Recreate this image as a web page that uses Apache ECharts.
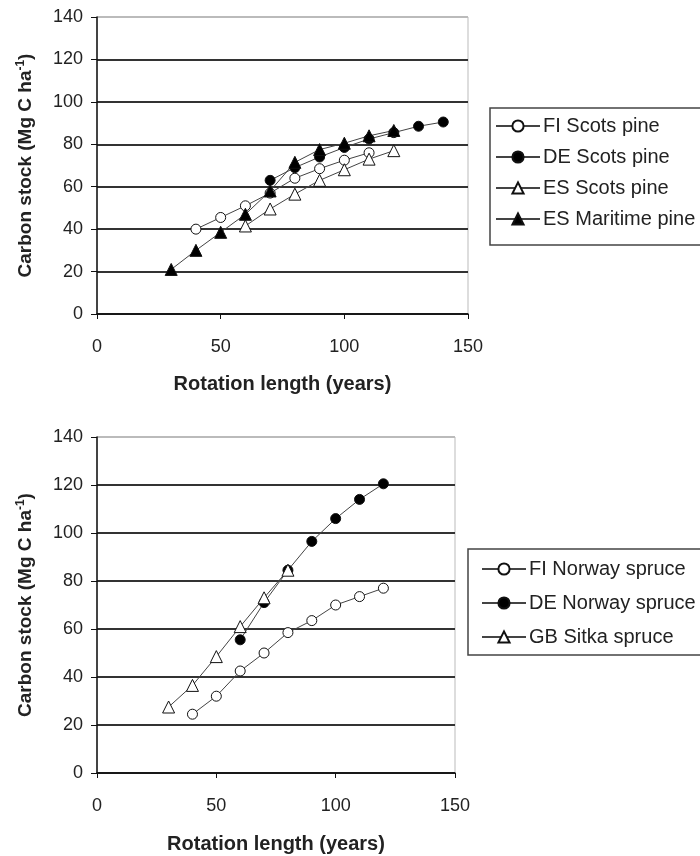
<!DOCTYPE html>
<html>
<head>
<meta charset="utf-8">
<script src="https://cdn.jsdelivr.net/npm/echarts@6/dist/echarts.min.js"></script>
<style>
  html, body { margin: 0; padding: 0; background: #fff; }
  #chart { width: 700px; height: 856px; }
</style>
</head>
<body>
<div id="chart"></div>
<script>
// pine (top panel)
var fiScotsYears = [40, 50, 60, 70, 80, 90, 100, 110];
var fiScotsStock = [40, 45.5, 51, 57, 64, 68.5, 72.5, 76];
var deScotsYears = [70, 80, 90, 100, 110, 120, 130, 140];
var deScotsStock = [63, 69, 74, 78.5, 82.5, 85.5, 88.5, 90.5];
var esScotsYears = [60, 70, 80, 90, 100, 110, 120];
var esScotsStock = [41.5, 49.5, 56.5, 63, 68, 73, 77];
var esMaritimeYears = [30, 40, 50, 60, 70, 80, 90, 100, 110, 120];
var esMaritimeStock = [21, 30, 38.5, 47, 58, 71.5, 77.5, 80.5, 84, 86.5];

// spruce (bottom panel)
var fiNorwayYears = [40, 50, 60, 70, 80, 90, 100, 110, 120];
var fiNorwayStock = [24.5, 32, 42.5, 50, 58.5, 63.5, 70, 73.5, 77];
var deNorwayYears = [60, 70, 80, 90, 100, 110, 120];
var deNorwayStock = [55.5, 71, 84.5, 96.5, 106, 114, 120.5];
var gbSitkaYears = [30, 40, 50, 60, 70, 80];
var gbSitkaStock = [27.5, 36.5, 48.5, 61, 73, 84.5];

var yTicks = [0, 20, 40, 60, 80, 100, 120, 140];
var xTicks = [0, 50, 100, 150];

function pairs(xs, ys) {
  return xs.map(function (x, i) { return [x, ys[i]]; });
}

var font = 'Liberation Sans, Arial, sans-serif';
var txt = '#222';

function makeSeries(name, xs, ys, symbol, filled, idx) {
  return {
    name: name,
    type: 'line',
    xAxisIndex: idx,
    yAxisIndex: idx,
    data: pairs(xs, ys),
    symbol: symbol,
    symbolSize: symbol === 'triangle' ? 12 : 10,
    lineStyle: { color: '#444', width: 1 },
    itemStyle: { color: filled ? '#000' : '#fff', borderColor: '#111', borderWidth: 1 },
    emphasis: { disabled: true },
    animation: false
  };
}

function xAx(idx, gap) {
  return {
    type: 'value', gridIndex: idx, min: 0, max: 150, interval: 50,
    name: 'Rotation length (years)', nameLocation: 'middle', nameGap: gap,
    nameTextStyle: { fontFamily: font, fontSize: 20, fontWeight: 'bold', color: txt },
    axisLine: { lineStyle: { color: '#111', width: 1.5 } },
    axisTick: { show: true, length: 5, lineStyle: { color: '#111' } },
    axisLabel: { fontFamily: font, fontSize: 18, color: txt, margin: 24,
      formatter: function (v) { return xTicks.indexOf(v) >= 0 ? String(v) : ''; } },
    splitLine: { show: false }
  };
}

function yAx(idx) {
  return {
    type: 'value', gridIndex: idx, min: 0, max: 140, interval: 20,
    name: '{a|Carbon stock (Mg C ha}{s|-1}{a|)}', nameLocation: 'middle', nameGap: 60,
    nameTextStyle: {
      rich: {
        a: { fontFamily: font, fontSize: 19, fontWeight: 'bold', color: txt },
        s: { fontFamily: font, fontSize: 12, fontWeight: 'bold', color: txt, verticalAlign: 'top', padding: [0, 0, 10, 0] }
      }
    },
    axisLine: { show: true, lineStyle: { color: '#111', width: 1.5 } },
    axisTick: { show: true, length: 6, lineStyle: { color: '#111' } },
    axisLabel: { fontFamily: font, fontSize: 18, color: txt, margin: 14,
      formatter: function (v) { return yTicks.indexOf(v) >= 0 ? String(v) : ''; } },
    splitLine: { show: true, lineStyle: {
      color: ['#333', '#333', '#333', '#333', '#333', '#333', '#333', '#bbb'], width: 2 } }
  };
}

var chart = echarts.init(document.getElementById('chart'));
chart.setOption({
  backgroundColor: '#fff',
  animation: false,
  grid: [
    { left: 97, right: 232, top: 17, height: 297, show: true, borderColor: '#bbb', borderWidth: 1 },
    { left: 97, right: 245, top: 437, height: 336, show: true, borderColor: '#bbb', borderWidth: 1 }
  ],
  xAxis: [xAx(0, 60), xAx(1, 61)],
  yAxis: [yAx(0), yAx(1)],
  legend: [
    {
      data: ['FI Scots pine', 'DE Scots pine', 'ES Scots pine', 'ES Maritime pine'],
      orient: 'vertical', left: 490, top: 108,
      itemWidth: 44, itemHeight: 14, itemGap: 11,
      padding: [8, 40, 16, 5],
      borderColor: '#444', borderWidth: 1.5,
      textStyle: { fontFamily: font, fontSize: 20, color: txt, padding: [0, 0, 0, -2] },
      selectedMode: false
    },
    {
      data: ['FI Norway spruce', 'DE Norway spruce', 'GB Sitka spruce'],
      orient: 'vertical', left: 468, top: 549,
      itemWidth: 44, itemHeight: 14, itemGap: 14,
      padding: [10, 40, 8, 13],
      borderColor: '#444', borderWidth: 1.5,
      textStyle: { fontFamily: font, fontSize: 20, color: txt, padding: [0, 0, 0, -2] },
      selectedMode: false
    }
  ],
  series: [
    makeSeries('FI Scots pine', fiScotsYears, fiScotsStock, 'circle', false, 0),
    makeSeries('DE Scots pine', deScotsYears, deScotsStock, 'circle', true, 0),
    makeSeries('ES Scots pine', esScotsYears, esScotsStock, 'triangle', false, 0),
    makeSeries('ES Maritime pine', esMaritimeYears, esMaritimeStock, 'triangle', true, 0),
    makeSeries('FI Norway spruce', fiNorwayYears, fiNorwayStock, 'circle', false, 1),
    makeSeries('DE Norway spruce', deNorwayYears, deNorwayStock, 'circle', true, 1),
    makeSeries('GB Sitka spruce', gbSitkaYears, gbSitkaStock, 'triangle', false, 1)
  ]
});
</script>
</body>
</html>
